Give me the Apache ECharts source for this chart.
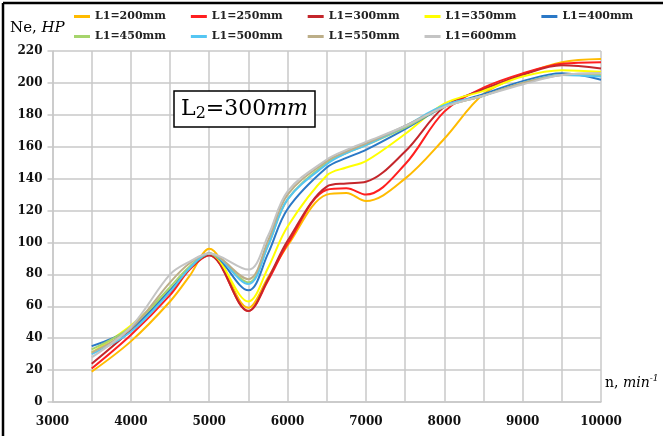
<!DOCTYPE html>
<html>
<head>
<meta charset="utf-8">
<script src="https://cdn.jsdelivr.net/npm/echarts@6/dist/echarts.min.js"></script>
<style>
html, body { margin: 0; padding: 0; background: #fff; }
#main { width: 663px; height: 436px; }
</style>
</head>
<body>
<div id="main"></div>
<script>
// engine speed, min-1
const rpm = [3500, 4000, 4500, 4750, 5000, 5500, 5750, 6000, 6500, 6750, 7000, 7500, 8000, 8500, 9000, 9500, 10000];

// Ne, HP for each L1
const l200 = [19, 38, 63, 79, 96, 59, 78, 98, 130, 131, 126, 140, 165, 193, 205, 213, 215];
const l250 = [21, 42, 67, 83, 92, 57, 76, 99, 133, 134, 130, 149, 182, 197, 206, 212, 213];
const l300 = [24, 45, 69, 84, 92, 57, 77, 101, 135, 137, 138, 157, 185, 196, 205, 211, 209];
const l350 = [31, 48, 70, 84, 93, 63, 84, 110, 142, 147, 151, 168, 187, 195, 204, 208, 207];
const l400 = [35, 46, 70, 84, 93, 70, 93, 121, 147, 153, 158, 171, 185, 193, 201, 206, 202];
const l450 = [33, 47, 72, 85, 93, 75, 98, 127, 150, 156, 161, 172, 185, 192, 200, 205, 205];
const l500 = [30, 44, 69, 84, 93, 74, 98, 127, 149, 156, 161, 173, 186, 192, 200, 205, 204];
const l550 = [31, 46, 75, 87, 93, 77, 101, 130, 151, 157, 162, 173, 185, 192, 200, 205, 206];
const l600 = [28, 47, 80, 88, 93, 83, 104, 132, 152, 158, 163, 173, 185, 192, 199, 205, 206];

const names = ['L1=200mm', 'L1=250mm', 'L1=300mm', 'L1=350mm', 'L1=400mm',
  'L1=450mm', 'L1=500mm', 'L1=550mm', 'L1=600mm'];
const values = [l200, l250, l300, l350, l400, l450, l500, l550, l600];
const colors = ['#ffbb00', '#ff1f1f', '#c4262b', '#ffff00', '#2a78c6',
  '#a6d46c', '#55c6f2', '#bcae88', '#c4c4c4'];

const gridColor = '#c8c8c8';
const serif = 'DejaVu Serif';

const series = names.map((name, i) => ({
  name: name,
  type: 'line',
  smooth: 0.35,
  symbol: 'none',
  lineStyle: { width: 2, color: colors[i] },
  itemStyle: { color: colors[i] },
  data: rpm.map((x, j) => [x, values[i][j]])
}));

const legendBase = {
  left: 74,
  padding: 0,
  icon: 'rect',
  itemWidth: 16,
  itemHeight: 3,
  itemGap: 25,
  textStyle: { fontFamily: serif, fontWeight: 'bold', fontSize: 11, color: '#222' }
};

const option = {
  backgroundColor: '#fff',
  animation: false,
  color: colors,
  legend: [
    Object.assign({}, legendBase, { top: 11, data: names.slice(0, 5) }),
    Object.assign({}, legendBase, { top: 31, data: names.slice(5) })
  ],
  grid: { left: 52.5, right: 62, top: 51, bottom: 34, containLabel: false },
  xAxis: {
    type: 'value',
    min: 3000,
    max: 10000,
    interval: 500,
    axisLine: { lineStyle: { color: gridColor, width: 1.5 } },
    axisTick: { show: false },
    axisLabel: {
      margin: 14,
      fontFamily: serif, fontWeight: 'bold', fontSize: 12, color: '#111',
      formatter: v => (v % 1000 === 0 ? String(v) : '')
    },
    splitLine: { show: true, lineStyle: { color: gridColor, width: 1.5 } }
  },
  yAxis: {
    type: 'value',
    min: 0,
    max: 220,
    interval: 20,
    axisLine: { show: true, lineStyle: { color: gridColor, width: 1.5 } },
    axisTick: { show: true, length: 5, lineStyle: { color: gridColor, width: 1.5 } },
    axisLabel: { margin: 10, fontFamily: serif, fontWeight: 'bold', fontSize: 12, color: '#111' },
    splitLine: { show: true, lineStyle: { color: gridColor, width: 1.5 } }
  },
  graphic: [
    { type: 'line', shape: { x1: 3, y1: 3, x2: 663, y2: 3 }, style: { stroke: '#000', lineWidth: 2.5 }, z: 100 },
    { type: 'line', shape: { x1: 3, y1: 3, x2: 3, y2: 436 }, style: { stroke: '#000', lineWidth: 2.5 }, z: 100 },
    {
      type: 'text', x: 10, y: 28, z: 100,
      style: {
        text: '{a|Ne, }{b|HP}',
        verticalAlign: 'middle',
        rich: {
          a: { fontFamily: serif, fontSize: 15, fill: '#000' },
          b: { fontFamily: serif, fontSize: 15, fontStyle: 'italic', fill: '#000' }
        }
      }
    },
    {
      type: 'text', x: 605, y: 383, z: 100,
      style: {
        text: '{a|n, }{b|min}{c|-1}',
        verticalAlign: 'middle',
        rich: {
          a: { fontFamily: serif, fontSize: 14, fill: '#000', lineHeight: 18 },
          b: { fontFamily: serif, fontSize: 14, fontStyle: 'italic', fill: '#000', lineHeight: 18 },
          c: { fontFamily: serif, fontSize: 9, fontStyle: 'italic', fill: '#000', lineHeight: 9, verticalAlign: 'top' }
        }
      }
    },
    {
      type: 'rect', z: 100,
      shape: { x: 174, y: 91, width: 141, height: 36 },
      style: { fill: '#fff', stroke: '#000', lineWidth: 1.5 }
    },
    {
      type: 'text', x: 244.5, y: 109, z: 101,
      style: {
        text: '{a|L}{b|2}{a|=300}{c|mm}',
        align: 'center',
        verticalAlign: 'middle',
        rich: {
          a: { fontFamily: serif, fontSize: 22, fill: '#000', lineHeight: 26 },
          b: { fontFamily: serif, fontSize: 16, fill: '#000', lineHeight: 16, verticalAlign: 'bottom' },
          c: { fontFamily: serif, fontSize: 22, fontStyle: 'italic', fill: '#000', lineHeight: 26 }
        }
      }
    }
  ],
  series: series
};

const myChart = echarts.init(document.getElementById('main'), null, { renderer: 'canvas' });
myChart.setOption(option);
</script>
</body>
</html>
